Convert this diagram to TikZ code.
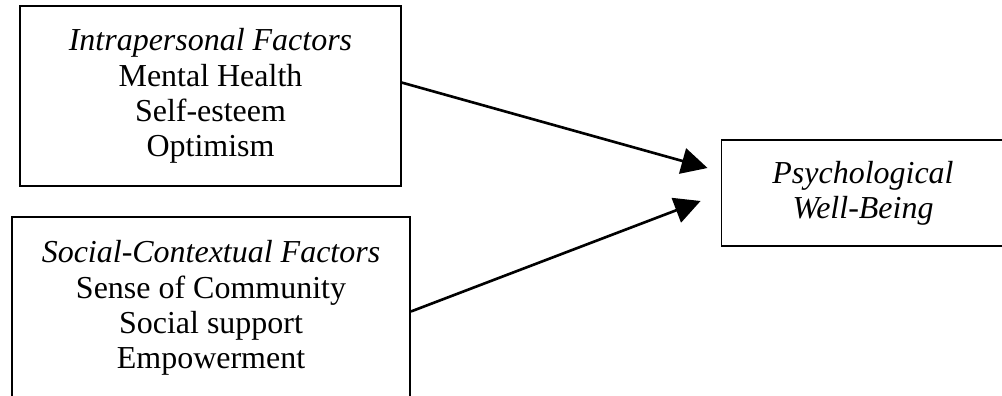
\documentclass[tikz,border=0pt]{standalone}
\usepackage{fontspec}
\setmainfont{Liberation Serif}
\usetikzlibrary{positioning,arrows.meta}

\begin{document}
\begin{tikzpicture}[x=0.02cm, y=-0.02cm,
  every node/.style={font=\fontsize{18.2}{20}\selectfont, align=center},
  factor/.style={draw, line width=1.1pt, inner sep=0pt},
  link/.style={line width=1.5pt, -{Triangle[length=0.52cm, width=0.52cm]}}]
\useasboundingbox (0,0) rectangle (1002,396);
% Factor boxes
\node[factor, minimum width=7.62cm, minimum height=3.6cm] (intra) at (210.5,96)
  {\textit{Intrapersonal Factors}\\Mental Health\\Self-esteem\\Optimism};
\node[factor, minimum width=7.96cm, minimum height=3.64cm] (social) at (211,308)
  {\textit{Social-Contextual Factors}\\Sense of Community\\Social support\\Empowerment};

% Outcome
\node[factor, minimum width=5.66cm, minimum height=2.12cm] (wb) at (863,193)
  {\textit{Psychological}\\\textit{Well-Being}};

\draw[link] (intra.4.8) -- ([shift={(-13,-25)}]wb.west);
\draw[link] (social.-1) -- ([shift={(-20,8)}]wb.west);
\end{tikzpicture}
\end{document}
